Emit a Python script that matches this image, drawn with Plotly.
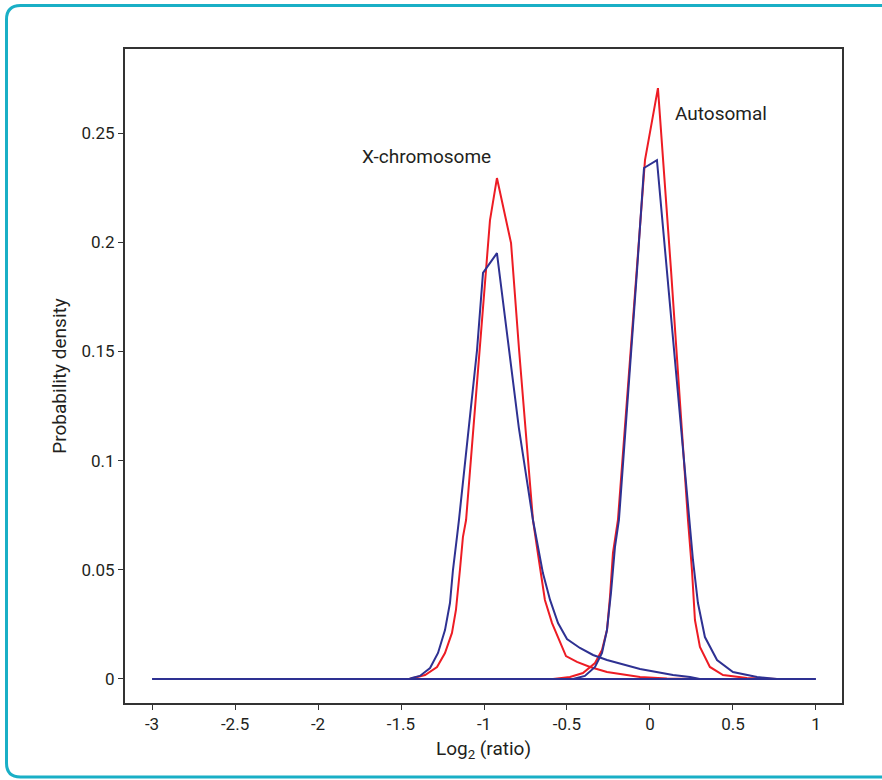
import plotly.graph_objects as go

# X-chromosome and autosomal log2-ratio densities (two samples: red, blue)
red_x_vals = [-1.45, -1.428, -1.355, -1.283, -1.235, -1.193, -1.169, -1.145, -1.127, -1.108,
              -1.024, -0.964, -0.922, -0.837, -0.789, -0.705, -0.681, -0.651, -0.633, -0.590,
              -0.542, -0.506, -0.440, -0.361, -0.259, -0.060, 0.102, 0.30]
red_x_dens = [0.0, 0.0005, 0.0018, 0.0055, 0.0119, 0.0211, 0.0316, 0.0499, 0.0650, 0.0728,
              0.151, 0.210, 0.2294, 0.1996, 0.151, 0.0728, 0.0604, 0.0453, 0.0362, 0.0256,
              0.0165, 0.0105, 0.0078, 0.0055, 0.0032, 0.0009, 0.0002, 0.0]

blue_x_vals = [-1.45, -1.434, -1.386, -1.325, -1.277, -1.235, -1.205, -1.187, -1.163, -1.151,
               -1.042, -1.006, -0.922, -0.849, -0.79, -0.705, -0.675, -0.645, -0.602, -0.554,
               -0.500, -0.422, -0.343, -0.259, -0.060, 0.139, 0.241, 0.30]
blue_x_dens = [0.0, 0.0005, 0.0014, 0.005, 0.0119, 0.0224, 0.0348, 0.0499, 0.065, 0.0728,
               0.1506, 0.186, 0.195, 0.1506, 0.115, 0.0728, 0.0604, 0.0485, 0.0362, 0.0256,
               0.0183, 0.0142, 0.011, 0.0087, 0.0046, 0.0018, 0.0009, 0.0]

red_a_vals = [-0.584, -0.482, -0.404, -0.331, -0.289, -0.259, -0.241, -0.223, -0.193, -0.030,
              0.048, 0.127, 0.229, 0.253, 0.271, 0.301, 0.361, 0.440, 0.584, 0.765]
red_a_dens = [0.0, 0.0009, 0.0027, 0.0073, 0.0133, 0.0224, 0.0375, 0.0577, 0.0728, 0.2376,
              0.2706, 0.187, 0.0728, 0.0499, 0.027, 0.0147, 0.0055, 0.0018, 0.0005, 0.0]

blue_a_vals = [-0.464, -0.392, -0.331, -0.289, -0.259, -0.235, -0.211, -0.187, -0.078, -0.036,
               0.042, 0.102, 0.235, 0.259, 0.289, 0.331, 0.404, 0.50, 0.645, 0.765]
blue_a_dens = [0.0, 0.0014, 0.0055, 0.0119, 0.0224, 0.0394, 0.0604, 0.0728, 0.187, 0.234,
               0.2376, 0.187, 0.0728, 0.0545, 0.0348, 0.0192, 0.0087, 0.0032, 0.0009, 0.0]

baseline_vals = [-3.0, 1.0]
baseline_dens = [0.0, 0.0]

x_ticks = [-3, -2.5, -2, -1.5, -1, -0.5, 0, 0.5, 1]
x_ticklabels = ["-3", "-2.5", "-2", "-1.5", "-1", "-0.5", "0", "0.5", "1"]
y_ticks = [0, 0.05, 0.1, 0.15, 0.2, 0.25]
y_ticklabels = ["0", "0.05", "0.1", "0.15", "0.2", "0.25"]

RED = "#ED1C24"
BLUE = "#2E3192"
INK = "#231F20"
FONT = "Roboto, sans-serif"

fig = go.Figure()
for xs, ys, col in [(red_x_vals, red_x_dens, RED), (red_a_vals, red_a_dens, RED),
                    (baseline_vals, baseline_dens, BLUE),
                    (blue_x_vals, blue_x_dens, BLUE), (blue_a_vals, blue_a_dens, BLUE)]:
    fig.add_trace(go.Scatter(x=xs, y=ys, mode="lines",
                             line=dict(color=col, width=2), hoverinfo="skip"))

fig.add_annotation(x=-1.747, y=0.2395, text="X-chromosome", showarrow=False,
                   xanchor="left", yanchor="middle", font=dict(size=19, color=INK, family=FONT))
fig.add_annotation(x=0.139, y=0.259, text="Autosomal", showarrow=False,
                   xanchor="left", yanchor="middle", font=dict(size=19, color=INK, family=FONT))

W, H = 882, 780
ml, mr, mt, mb = 125, 40, 49, 77
pw, ph = W - ml - mr, H - mt - mb


def px(xp):
    return (xp - ml) / pw


def py(yp):
    return (H - mb - yp) / ph


# rounded frame around the figure
x0, x1, y0, y1 = px(6.5), px(895), py(5.5), py(777)
rx, ry = 14 / pw, 14 / ph
frame = (f"M {x0+rx},{y0} L {x1},{y0} L {x1},{y1} L {x0+rx},{y1} "
         f"Q {x0},{y1} {x0},{y1+ry} L {x0},{y0-ry} Q {x0},{y0} {x0+rx},{y0} Z")
fig.add_shape(type="path", path=frame, xref="paper", yref="paper",
              line=dict(color="#19AFC6", width=3), layer="below")

axis_common = dict(showline=True, mirror=True, linecolor="#333333", linewidth=2,
                   ticks="outside", ticklen=5, tickcolor="#333333", tickwidth=1,
                   showgrid=False, zeroline=False,
                   tickfont=dict(size=17, color=INK, family=FONT))

fig.update_layout(
    width=W, height=H,
    margin=dict(l=ml, r=mr, t=mt, b=mb),
    paper_bgcolor="white", plot_bgcolor="white",
    showlegend=False,
    xaxis=dict(range=[-3.163, 1.157], tickvals=x_ticks, ticktext=x_ticklabels,
               title=dict(text="Log<sub>2</sub> (ratio)", standoff=8,
                          font=dict(size=19, color=INK, family=FONT)),
               **axis_common),
    yaxis=dict(range=[-0.011, 0.2885], tickvals=y_ticks, ticktext=y_ticklabels,
               title=dict(text="Probability density", standoff=10,
                          font=dict(size=19, color=INK, family=FONT)),
               **axis_common),
)

fig.write_html("out.html")
